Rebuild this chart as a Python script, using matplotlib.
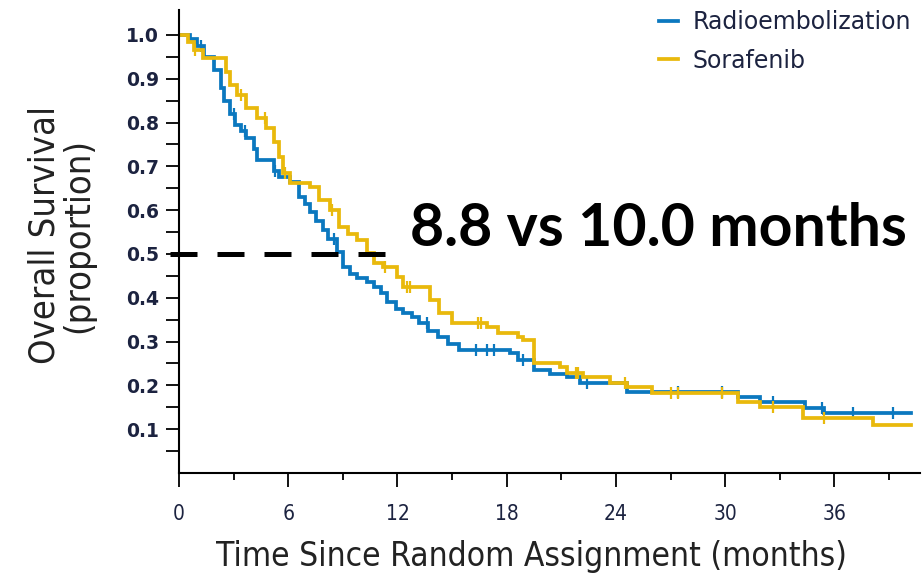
import numpy as np
import matplotlib
matplotlib.use("Agg")
import matplotlib.pyplot as plt
from matplotlib import font_manager

# Kaplan-Meier step data (time in months, survival proportion)
radio_t = [0, 0.6, 1.0, 1.4, 1.9, 2.3, 2.5, 2.8, 3.1, 3.4, 3.7, 4.1, 4.3, 5.2, 5.5,
           6.1, 6.6, 6.9, 7.2, 7.5, 7.9, 8.2, 8.7, 9.0, 9.4, 9.8, 10.3, 10.7, 11.1,
           11.4, 11.9, 12.3, 12.8, 13.2, 13.7, 14.2, 14.8, 15.4, 18.2, 18.6, 19.5,
           20.4, 21.3, 22.0, 24.6, 30.7, 31.9, 34.4, 35.4]
radio_s = [1.0, 0.99, 0.975, 0.95, 0.92, 0.88, 0.85, 0.82, 0.795, 0.78, 0.765, 0.74,
           0.715, 0.69, 0.675, 0.665, 0.63, 0.615, 0.595, 0.575, 0.555, 0.535, 0.505,
           0.47, 0.455, 0.445, 0.435, 0.425, 0.41, 0.39, 0.375, 0.365, 0.355, 0.342,
           0.325, 0.31, 0.295, 0.281, 0.274, 0.258, 0.235, 0.225, 0.219, 0.205, 0.185,
           0.174, 0.162, 0.148, 0.137]
radio_censor = [1.2, 3.0, 3.6, 5.3, 8.5, 13.6, 16.3, 16.9, 17.3, 18.9, 22.4, 27.4,
                29.8, 32.6, 35.3, 37.0, 39.2]

sora_t = [0, 0.5, 0.8, 1.3, 2.6, 2.8, 3.2, 3.7, 4.3, 4.8, 5.2, 5.5, 5.7, 6.1, 7.2,
          7.7, 8.3, 8.8, 9.3, 9.8, 10.3, 10.7, 11.2, 12.0, 12.3, 13.8, 14.3, 15.0,
          16.9, 17.5, 18.6, 18.9, 19.5, 20.9, 21.3, 22.2, 23.7, 24.6, 26.0, 30.7,
          31.9, 34.3, 38.1]
sora_s = [1.0, 0.985, 0.966, 0.947, 0.915, 0.886, 0.863, 0.833, 0.81, 0.788, 0.756,
          0.721, 0.685, 0.662, 0.653, 0.623, 0.6, 0.562, 0.545, 0.532, 0.502, 0.479,
          0.47, 0.447, 0.425, 0.395, 0.365, 0.342, 0.333, 0.32, 0.31, 0.304, 0.251,
          0.242, 0.228, 0.219, 0.205, 0.196, 0.183, 0.162, 0.151, 0.126, 0.11]
sora_censor = [0.9, 3.4, 4.7, 5.8, 8.4, 11.3, 12.5, 12.7, 16.4, 16.6, 21.8, 21.9,
               24.5, 27.0, 27.4, 29.8, 32.6, 35.4]

t_end = 40.2
median_text = "8.8 vs 10.0 months"

blue = "#0b78bf"
yellow = "#e9b90c"
label_color = "#1c2340"

names = {f.name for f in font_manager.fontManager.ttflist}
bigfont = "Lato" if "Lato" in names else "DejaVu Sans"
# condensed face for the axis texts
cond = dict(family="DejaVu Sans", stretch="condensed")

fig = plt.figure(figsize=(9.24, 5.78), dpi=100)
ax = fig.add_axes([0.1937, 0.1817, 0.8020, 0.8010])


def km_line(t, s, censor, color, label):
    t = np.asarray(t)
    s = np.asarray(s)
    ax.step(np.append(t, t_end), np.append(s, s[-1]), where="post",
            color=color, lw=2.7, label=label, solid_joinstyle="miter")
    c = np.asarray(censor)
    idx = np.searchsorted(t, c, side="right") - 1
    ax.plot(c, s[idx], ls="none", marker="|", ms=9, mew=1.6, color=color)


km_line(radio_t, radio_s, radio_censor, blue, "Radioembolization")
km_line(sora_t, sora_s, sora_censor, yellow, "Sorafenib")

# median line
ax.plot([-0.5, 11.5], [0.5, 0.5], color="black", lw=3.6, dashes=(5.4, 4.0),
        clip_on=False, zorder=5)

ax.set_xlim(0, 40.7)
ax.set_ylim(0, 1.057)
ax.spines["top"].set_visible(False)
ax.spines["right"].set_visible(False)
ax.spines["left"].set_linewidth(1.5)
ax.spines["bottom"].set_linewidth(1.5)

ax.set_xticks(np.arange(0, 37, 6))
ax.set_xticks(np.arange(3, 40, 6), minor=True)
ax.set_yticks(np.round(np.arange(0.1, 1.01, 0.1), 1))
ax.set_yticks(np.round(np.arange(0.05, 1.0, 0.1), 2), minor=True)
ax.set_yticklabels([f"{v:.1f}" for v in np.arange(0.1, 1.01, 0.1)])

ax.tick_params(axis="y", which="both", direction="out", length=9.5, width=1.3,
               pad=5, labelsize=13.5, labelcolor=label_color)
ax.tick_params(axis="x", which="major", direction="out", length=10, width=1.3,
               pad=12, labelsize=15, labelcolor=label_color)
ax.tick_params(axis="x", which="minor", direction="out", length=5, width=1.3)
for lab in ax.get_xticklabels():
    lab.set_family("DejaVu Sans")
    lab.set_stretch("condensed")
for lab in ax.get_yticklabels():
    lab.set_family("DejaVu Sans")
    lab.set_fontweight("bold")

ax.set_xlabel("Time Since Random Assignment (months)", fontsize=24,
              color="#222222", **cond)
ax.xaxis.set_label_coords(0.475, -0.145)
ax.set_ylabel("Overall Survival\n(proportion)", fontsize=26,
              color="#222222", linespacing=1.0, **cond)
ax.yaxis.set_label_coords(-0.113, 0.514)

leg = ax.legend(loc="upper right", bbox_to_anchor=(1.016, 1.045), frameon=False,
                handlelength=0.8, handletextpad=0.6, labelspacing=0.6,
                prop={"family": "DejaVu Sans", "size": 17})
for txt in leg.get_texts():
    txt.set_color(label_color)

fig.text(410 / 924, 1 - 246 / 578, median_text, family=bigfont, fontweight="bold",
         fontsize=42.5, color="black", va="baseline", ha="left")

fig.savefig("out.png", dpi=100)
